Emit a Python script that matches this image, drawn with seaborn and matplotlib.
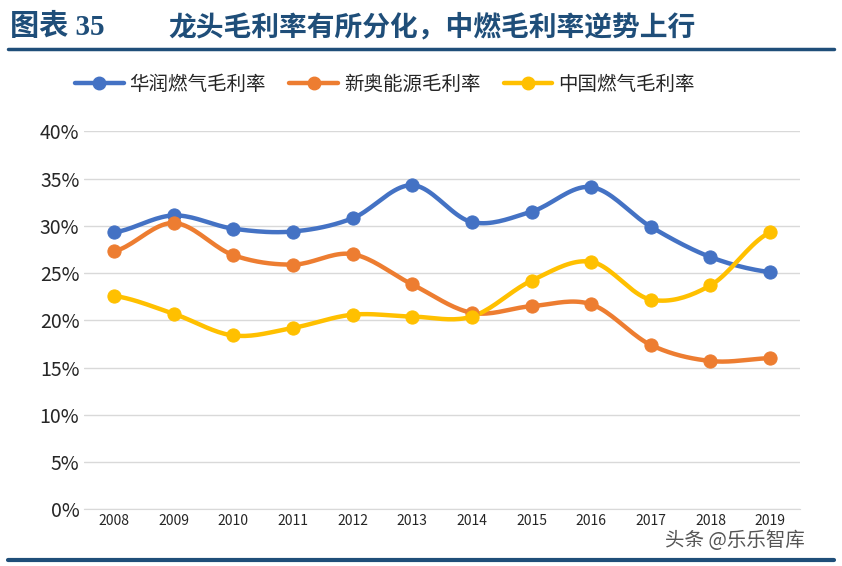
import numpy as np
import matplotlib.pyplot as plt
import seaborn as sns

years = ["2008", "2009", "2010", "2011", "2012", "2013", "2014", "2015", "2016", "2017", "2018", "2019"]
huarun = [29.3, 31.1, 29.7, 29.4, 30.8, 34.3, 30.4, 31.5, 34.1, 29.9, 26.7, 25.1]
xinao = [27.3, 30.3, 26.9, 25.9, 27.0, 23.8, 20.8, 21.5, 21.7, 17.4, 15.7, 16.0]
zhongguo = [22.6, 20.7, 18.4, 19.2, 20.6, 20.4, 20.4, 24.2, 26.2, 22.2, 23.7, 29.3]
names = ["华润燃气毛利率", "新奥能源毛利率", "中国燃气毛利率"]
colors = ["#4472C4", "#ED7D31", "#FFC000"]

sns.set_style("white")
plt.rcParams['font.family'] = ['Noto Sans CJK SC', 'DejaVu Sans']

def smooth(y, n=20):
    # Catmull-Rom style smoothing for display
    y = np.asarray(y, float)
    p = np.concatenate([[y[0]], y, [y[-1]]])
    xs, ys = [], []
    for i in range(len(y) - 1):
        p0, p1, p2, p3 = p[i], p[i + 1], p[i + 2], p[i + 3]
        t = np.linspace(0, 1, n, endpoint=False)
        ys.append(0.5 * (2 * p1 + (-p0 + p2) * t + (2 * p0 - 5 * p1 + 4 * p2 - p3) * t**2
                         + (-p0 + 3 * p1 - 3 * p2 + p3) * t**3))
        xs.append(i + t)
    xs.append([len(y) - 1]); ys.append([y[-1]])
    return np.concatenate(xs), np.concatenate(ys)

fig = plt.figure(figsize=(8.42, 5.66), dpi=100)
ax = fig.add_axes([0.1, 0.1, 0.85, 0.668])
x = np.arange(len(years))
for vals, name, c in zip([huarun, xinao, zhongguo], names, colors):
    sx, sy = smooth(vals)
    ax.plot(sx, sy, color=c, lw=3.2, zorder=2)
    sns.scatterplot(x=x, y=vals, ax=ax, color=c, s=90, edgecolor=c, zorder=3)
    ax.plot([], [], color=c, lw=3.2, marker="o", ms=9, label=name)

ax.set_xlim(-0.5, len(years) - 0.5)
ax.set_ylim(0, 40)
ax.set_yticks(range(0, 41, 5))
ax.set_yticklabels([f"{v}%" for v in range(0, 41, 5)], fontsize=14)
ax.set_xticks(x)
ax.set_xticklabels(years, fontsize=10)
ax.grid(axis="y", color="#D9D9D9", lw=1)
for s in ["top", "right", "left"]:
    ax.spines[s].set_visible(False)
ax.spines["bottom"].set_color("#D9D9D9")
ax.tick_params(length=0)
ax.legend(loc="lower center", bbox_to_anchor=(0.42, 1.05), ncol=3, frameon=False,
          fontsize=14, handlelength=2.5, columnspacing=1.2, handletextpad=0.3)

fig.text(0.012, 0.952, "图表 35", fontsize=21, fontweight="bold", color="#1F4E79",
         family=['Liberation Serif', 'Noto Sans CJK SC'], va="center")
fig.text(0.2, 0.952, "龙头毛利率有所分化，中燃毛利率逆势上行", fontsize=20, fontweight="bold",
         color="#1F4E79", va="center")
fig.add_artist(plt.Line2D([0.01, 0.99], [0.913, 0.913], color="#1F4E79", lw=2.5))
fig.add_artist(plt.Line2D([0.01, 0.99], [0.01, 0.01], color="#1F4E79", lw=3))
fig.text(0.79, 0.045, "头条 @乐乐智库", fontsize=14, color="#555555", va="center")

fig.savefig("out.png", dpi=100)
